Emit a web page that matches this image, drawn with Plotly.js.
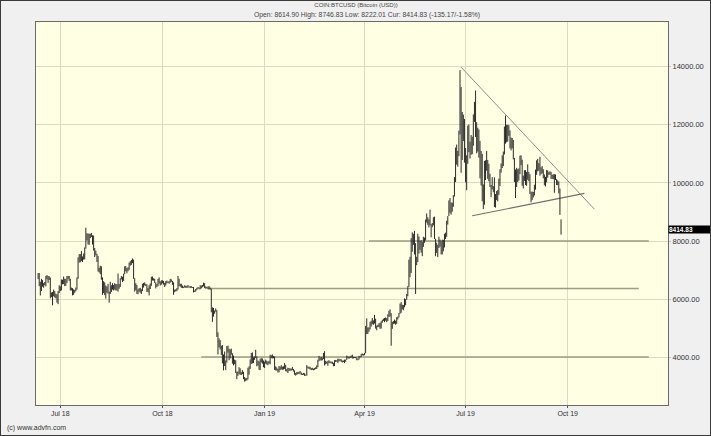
<!DOCTYPE html>
<html><head><meta charset="utf-8">
<script src="https://cdn.plot.ly/plotly-3.0.1.min.js"></script>
<style>
html,body{margin:0;padding:0;background:#f0f0f0;}
#chart{width:711px;height:436px;}
#frame{position:absolute;left:0;top:0;width:711px;height:436px;box-sizing:border-box;border:1px solid #3a3a3a;pointer-events:none;}
</style>
</head><body>
<div id="chart"></div><div id="frame"></div>
<script>
// ---- data (daily bars, first bar 2018-06-11) ----
const firstDate = '2018-06-11';
const high = [
// Jun 2018 (11-30)
6900,6900,6600,6700,6660,6560,6590,6800,6830,6800,6790,6740,6230,6250,6330,6280,6190,6170,6280,6480,
// Jul 2018
6440,6680,6670,6780,6700,6700,6800,6800,6800,6700,6400,6380,6340,6320,6400,6750,7440,7550,7550,7660,7470,7570,7780,8460,8270,8260,8250,8250,8280,8200,8190,
// Aug 2018
7760,7670,7560,7490,7080,7150,7130,6750,6620,6580,6470,6440,6530,6260,6600,6480,6550,6490,6550,6520,6520,6880,6520,6720,6800,6770,6880,7130,7140,7070,7100,
// Sep 2018
7260,7310,7350,7400,7360,6720,6550,6490,6340,6380,6390,6340,6530,6560,6580,6530,6510,6390,6480,6540,6770,6780,6720,6700,6580,6520,6700,6750,6610,6650,
// Oct 2018
6650,6630,6560,6620,6640,6610,6620,6700,6680,6630,6580,6330,6340,6380,6800,6700,6530,6530,6470,6430,6480,6460,6460,6490,6440,6450,6450,6420,6420,6300,6350,
// Nov 2018
6390,6420,6400,6480,6470,6490,6570,6550,6440,6420,6440,6450,6400,6360,5720,5700,5610,5680,5620,4860,4650,4590,4400,4420,4100,4200,3890,4390,4400,4300,
// Dec 2018
4270,4300,4140,4060,3920,3900,3510,3510,3660,3620,3490,3560,3500,3320,3280,3290,3640,3690,3930,4150,4170,4000,4030,4260,4030,3890,3860,3950,3970,3960,3890,
// Jan 2019
3850,3920,3880,3850,3880,4090,4070,4100,4040,4030,3690,3650,3600,3700,3680,3730,3680,3690,3800,3740,3590,3640,3630,3620,3610,3670,3600,3550,3460,3490,3500,
// Feb 2019
3500,3530,3480,3440,3460,3450,3410,3730,3680,3680,3670,3630,3640,3610,3630,3660,3720,3920,4050,3990,4010,3980,4150,4210,3880,3850,3880,3900,
// Mar 2019
3860,3850,3850,3810,3900,3910,3900,3950,3950,3940,3930,3890,3890,3920,3920,4060,4030,4020,4040,4060,4090,4010,4010,4010,3990,3950,4050,4040,4120,4130,4110,
// Apr 2019
4150,5080,5340,5030,5030,5220,5260,5350,5270,5460,5330,5090,5120,5170,5190,5240,5290,5330,5350,5370,5350,5480,5600,5650,5520,5220,5250,5300,5260,5380,
// May 2019
5400,5530,5850,5900,5810,5800,6030,6000,6180,6450,7360,7460,8100,8300,8250,8350,7930,7460,8250,8160,8000,8030,7970,8150,8120,8740,8950,8820,8750,9080,8580,
// Jun 2019
8620,8820,8840,8080,7940,7870,8150,8050,7990,8050,8040,8250,8290,8700,8860,9400,9480,9330,9320,9580,10200,11220,11320,11100,11800,13880,13300,12440,12350,12200,
// Jul 2019
11200,10950,11970,12010,11420,11650,11590,12360,12790,13180,12090,11900,11840,11450,11100,11000,9950,10760,10780,11100,10790,10660,10320,9930,10200,9890,10190,9620,9720,9760,10150,
// Aug 2019
10470,10670,10950,11080,11940,12320,12000,12000,11990,11810,11560,11550,11480,10860,10460,10520,10470,10500,10940,10950,10800,10250,10440,10440,10380,10640,10380,10300,9700,9700,9690,
// Sep 2019 (1-25)
9940,10460,10780,10830,10680,10900,10540,10580,10470,10290,10210,10450,10430,10370,10400,10380,10280,10300,10300,10290,10130,10090,10050,9810,8746.83
];
const low = [
// Jun 2018 (11-30)
6690,6450,6130,6280,6430,6390,6480,6440,6680,6560,6660,6030,6070,5790,6100,6060,6030,5880,5830,6210,
// Jul 2018
6280,6300,6510,6520,6450,6460,6560,6690,6630,6300,6300,6130,6150,6220,6270,6330,6700,7260,7270,7310,7280,7360,7370,7740,8020,7880,7870,8100,8140,7880,7670,
// Aug 2018
7450,7510,7280,6950,6920,6860,6670,6150,6210,6140,6020,6220,6190,5880,6180,6250,6330,6300,6330,6300,6300,6260,6360,6420,6680,6590,6630,6860,6960,6890,6960,
// Sep 2018
7010,7150,7180,7240,6700,6260,6310,6180,6170,6260,6220,6180,6280,6400,6470,6450,6250,6240,6130,6350,6460,6640,6640,6560,6370,6420,6450,6540,6470,6500,
// Oct 2018
6550,6500,6420,6470,6540,6560,6530,6570,6600,6490,6150,6240,6270,6280,6330,6450,6430,6390,6380,6390,6400,6390,6390,6400,6400,6380,6390,6390,6230,6250,6260,
// Nov 2018
6310,6360,6340,6340,6370,6410,6440,6380,6360,6370,6340,6340,6330,5550,5220,5400,5500,5570,4700,4100,4340,4270,4080,3790,3550,3700,3560,3820,4160,3900,
// Dec 2018
3960,4090,3780,3720,3760,3460,3250,3360,3420,3400,3390,3420,3250,3160,3190,3200,3240,3400,3600,3770,3790,3800,3910,3980,3690,3720,3570,3560,3820,3780,3660,
// Jan 2019
3630,3780,3750,3730,3780,3760,3970,3960,3970,3570,3550,3540,3480,3480,3560,3580,3570,3580,3600,3520,3510,3460,3530,3540,3540,3560,3510,3400,3370,3400,3420,
// Feb 2019
3420,3440,3390,3390,3400,3360,3370,3370,3620,3600,3580,3560,3570,3550,3570,3590,3600,3660,3860,3890,3890,3900,3940,3720,3760,3780,3710,3800,
// Mar 2019
3800,3790,3770,3690,3700,3840,3850,3810,3850,3880,3840,3820,3840,3800,3850,3910,3970,3950,3970,3990,3960,3960,3980,3970,3900,3900,3920,3990,4010,4060,4060,
// Apr 2019
4080,4140,4800,4800,4880,4960,5060,5140,5120,5160,4990,4930,5040,5040,4980,4990,5190,5250,5210,5260,5210,5250,5390,5400,4400,4980,5140,5160,5120,5150,
// May 2019
5300,5370,5500,5530,5650,5620,5720,5790,5980,6100,6420,6760,6900,7630,7870,7540,6180,7170,7280,7570,7700,7600,7480,7800,7940,8020,8640,8560,8470,8540,8130,
// Jun 2019
8480,8540,8070,7480,7590,7450,7760,7810,7540,7540,7650,7780,8070,8150,8570,8860,8970,8910,9010,9180,9530,10030,10630,10560,10920,11670,10350,10790,11440,10700,
// Jul 2019
10020,9750,10660,11060,10840,10970,10990,11280,12100,11580,11020,11080,10870,10160,9910,9370,9100,9250,10100,10420,10140,10060,9860,9510,9780,9680,9170,9150,9410,9370,9590,
// Aug 2019
9900,10350,10510,10580,10980,11350,11400,11420,11620,11190,11120,11190,10810,10030,9480,9860,10030,10080,10300,10610,9900,9810,10070,9930,9900,10110,10060,9620,9330,9410,9500,
// Sep 2019 (1-25)
9570,9770,10280,10400,10420,10250,10300,10330,10160,9920,9880,10020,10180,10280,10280,10140,10140,10130,9660,10100,9930,9920,9640,8900,8222.01
];

// quote of the last bar
const quoteOpen = 8614.90, quoteHigh = 8746.83, quoteLow = 8222.01, quoteCur = 8414.83;
const quoteChange = -135.17, quotePct = -1.58;

// axis ticks
const tickDates = ['2018-07-01','2018-10-01','2019-01-01','2019-04-01','2019-07-01','2019-10-01'];
const tickLabels = ['Jul 18','Oct 18','Jan 19','Apr 19','Jul 19','Oct 19'];
const priceTicks = [4000,6000,8000,10000,12000,14000];

// drawn horizontal levels and trend lines
const levelPrices = [8000, 6370, 4010];
const levelStart = ['2019-04-05','2018-11-11','2018-11-05'];
const levelEnd   = ['2019-12-13','2019-12-04','2019-12-13'];
const resistanceDates  = ['2019-06-26 20:00','2019-10-25'];
const resistancePrices = [13990, 9100];
const supportDates  = ['2019-07-07','2019-10-16'];
const supportPrices = [8870, 9640];

// ---- build ----
const dates = [];
const d0 = new Date(firstDate + 'T00:00:00Z').getTime();
for (let i = 0; i < high.length; i++) {
  dates.push(new Date(d0 + i * 86400000).toISOString().slice(0, 10));
}
const segX = [], segY = [];
for (let i = 0; i < high.length; i++) {
  segX.push(dates[i], dates[i], null);
  segY.push(low[i], high[i], null);
}

const traces = [];
levelPrices.forEach((p, i) => {
  traces.push({type:'scatter', mode:'lines', x:[levelStart[i], levelEnd[i]], y:[p, p],
    line:{color:'#9c9c84', width:1.6}, hoverinfo:'skip'});
});
traces.push({type:'scatter', mode:'lines', x:resistanceDates, y:resistancePrices,
  line:{color:'#8c8c8c', width:1}, hoverinfo:'skip'});
traces.push({type:'scatter', mode:'lines', x:supportDates, y:supportPrices,
  line:{color:'#6e6e6e', width:1.2}, hoverinfo:'skip'});
traces.push({type:'scatter', mode:'lines', x:segX, y:segY, connectgaps:false,
  line:{color:'#2a2a2a', width:1}, hoverinfo:'skip'});

const f2 = v => v.toFixed(2);
const subtitle = 'Open: ' + f2(quoteOpen) + ' High: ' + f2(quoteHigh) + ' Low: ' + f2(quoteLow) +
  ' Cur: ' + f2(quoteCur) + ' (' + f2(quoteChange) + '/' + f2(quotePct) + '%)';

const FONT = 'Liberation Sans, Arial, sans-serif';
const layout = {
  width:711, height:436,
  margin:{l:36, r:43, t:22, b:31, pad:0},
  paper_bgcolor:'#f0f0f0', plot_bgcolor:'#ffffe3',
  showlegend:false,
  font:{family:FONT, size:7, color:'#333'},
  title:{text:'COIN:BTCUSD (Bitcoin (USD))', font:{family:FONT, size:6, color:'#444'},
    xref:'container', x:356/711, xanchor:'center', yref:'container', y:1-5/436, yanchor:'middle'},
  xaxis:{type:'date', range:['2018-06-09 02:40','2019-12-30 08:00'],
    tickmode:'array', tickvals:tickDates, ticktext:tickLabels,
    showgrid:true, gridcolor:'#dcdac0', gridwidth:1,
    ticks:'outside', ticklen:2, tickcolor:'#555', tickfont:{family:FONT, size:7, color:'#333'},
    showline:true, linecolor:'#6a6a6a', linewidth:1, mirror:true, zeroline:false, fixedrange:true},
  yaxis:{side:'right', range:[2359, 15538],
    tickmode:'array', tickvals:priceTicks, ticktext:priceTicks.map(f2),
    showgrid:true, gridcolor:'#dcdac0', gridwidth:1,
    ticks:'outside', ticklen:2, tickcolor:'#c4c4b0', tickfont:{family:FONT, size:7.5, color:'#333'},
    showline:true, linecolor:'#6a6a6a', linewidth:1, mirror:true, zeroline:false, fixedrange:true},
  annotations:[
    {xref:'paper', yref:'paper', x:(367-36)/632, y:1+(22-15)/383, xanchor:'center', yanchor:'middle',
      text:subtitle, showarrow:false, font:{family:FONT, size:6.8, color:'#444'}},
    {xref:'paper', yref:'paper', x:-31/632, y:-(428-405)/383, xanchor:'left', yanchor:'middle',
      text:'(c) www.advfn.com', showarrow:false, font:{family:FONT, size:7, color:'#333'}},
    {xref:'paper', yref:'y', x:1, y:quoteCur, xanchor:'left', yanchor:'middle',
      text:'<b>' + f2(quoteCur) + '</b>', showarrow:false, bgcolor:'#000', borderpad:0,
      width:43, height:7, align:'left', font:{family:FONT, size:6.5, color:'#fff'}}
  ]
};
Plotly.newPlot('chart', traces, layout, {displayModeBar:false, staticPlot:true});
</script>
</body></html>
